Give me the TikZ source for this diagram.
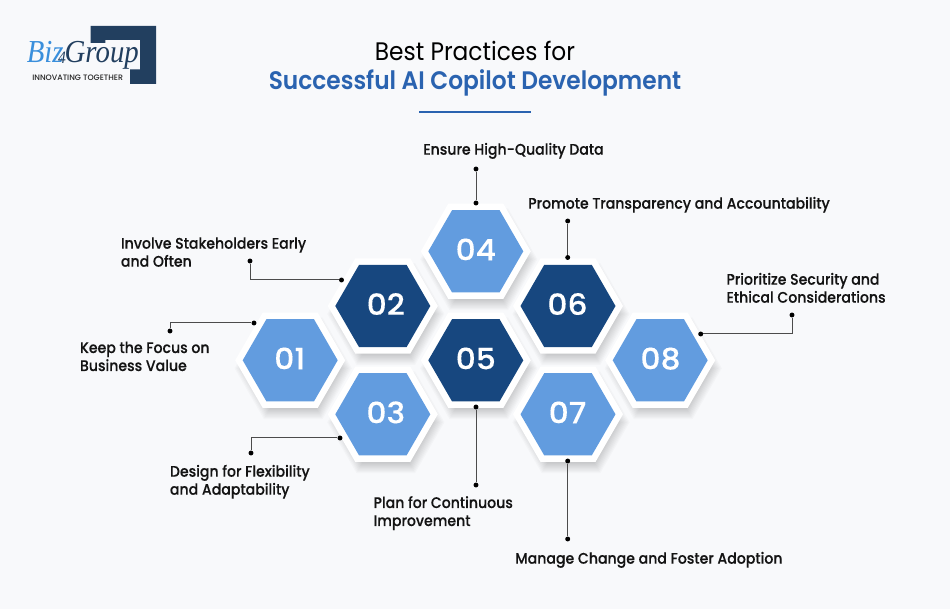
\documentclass[tikz,border=0pt]{standalone}
\usepackage{fontspec}
\usetikzlibrary{shapes.geometric}
\setmainfont{Poppins}
\newfontfamily\lblfont{Poppins Medium}[FakeStretch=0.92,FakeBold=0.2]
\newfontfamily\titlefont{Poppins}[FakeStretch=0.92]
\newfontfamily\titleboldfont{Poppins SemiBold}[FakeStretch=0.92]
\newfontfamily\numfont{Poppins Medium}[FakeStretch=1.07,FakeBold=0.25]
\newfontfamily\logofont{Liberation Serif}[FakeStretch=0.9]
\newfontfamily\tagfont{Poppins Medium}
\definecolor{bgc}{HTML}{F8F9FB}
\definecolor{lightb}{HTML}{629CDF}
\definecolor{darkb}{HTML}{17477F}
\definecolor{titleb}{HTML}{2A63B0}
\definecolor{logod}{HTML}{223F5F}
\definecolor{logol}{HTML}{3A8FDC}
\newcommand{\twolines}[2]{\vtop{\baselineskip=13.5pt\hbox{#1}\hbox{#2}}}
\tikzset{
  x=0.75pt,y=-0.75pt,
  hexshape/.style={regular polygon,regular polygon sides=6,inner sep=0pt,outer sep=0pt,draw=none},
  hexout/.style={hexshape,fill=white,minimum size=82.5pt},
  hexin/.style={hexshape,minimum size=71.25pt},
  hexshadow/.style={hexshape,fill=black,fill opacity=0.018,minimum size=#1},
  numtxt/.style={text=white,font=\numfont\fontsize{22}{22}\selectfont,anchor=base,inner sep=0pt},
  lbl/.style={anchor=base west,inner sep=0pt,text=black!92,font=\lblfont\fontsize{11.5}{13.5}\selectfont},
  dotn/.style={circle,fill=black,inner sep=0pt,minimum size=3.7pt},
  conn/.style={draw=black!70,line width=0.75pt},
}
\begin{document}
\begin{tikzpicture}
\useasboundingbox (0,0) rectangle (950,609);
\fill[bgc] (0,0) rectangle (950,609);
% logo
\fill[logod] (90.7,26) -- (156,26) -- (156,84) -- (130,84) -- (130,69.3) -- (140,69.3) -- (140,40) -- (105.3,40) -- (105.3,43) -- (90.7,43) -- cycle;
\node[anchor=base west,inner sep=0pt] (logotext) at (26.5,62.5) {\logofont\itshape\fontsize{24}{24}\selectfont\textcolor{logol}{Biz}\textcolor{logod}{\kern-4pt\raisebox{-1pt}{\fontsize{13}{13}\selectfont 4}\kern-1pt Group}};
\node[anchor=base west,inner sep=0pt,text=black!85] (logotag) at (32,80.5) {\tagfont\fontsize{5.9}{6}\selectfont INNOVATING TOGETHER};
% title
\node[anchor=base,inner sep=0pt,text=black] (t1) at (475,61) {\titlefont\fontsize{19}{19}\selectfont Best Practices for};
\node[anchor=base,inner sep=0pt,text=titleb] (t2) at (475,90) {\titleboldfont\fontsize{19}{19}\selectfont Successful AI Copilot Development};
\fill[titleb] (419.3,110.7) rectangle (530.7,112.7);
% hexagons
\foreach \n/\hx/\hy/\tx/\col in {1/290.2/360.3/289.8/lightb,2/382.8/306/385.8/darkb,3/382.8/414.3/385.8/lightb,4/475.8/251.3/475.8/lightb,5/475.8/360.3/475.8/darkb,6/568/306/567.5/darkb,7/568/414.3/567.5/lightb,8/660.2/360.3/660.5/lightb}{
  \foreach \s in {66,68,...,88}{
    \node[hexshadow=\s pt] at (\hx+3,\hy+8) {};
  }
}
\foreach \n/\hx/\hy/\tx/\col in {1/290.2/360.3/289.8/lightb,2/382.8/306/385.8/darkb,3/382.8/414.3/385.8/lightb,4/475.8/251.3/475.8/lightb,5/475.8/360.3/475.8/darkb,6/568/306/567.5/darkb,7/568/414.3/567.5/lightb,8/660.2/360.3/660.5/lightb}{
  \node[hexout] (o\n) at (\hx,\hy) {};
  \node[hexin,fill=\col] (h\n) at (\hx,\hy) {};
  \node[numtxt] (n\n) at (\tx,\hy+9) {0\n};
}
% labels
\node[lbl] (l1) at (79.7,353) {\twolines{Keep the Focus on}{Business Value}};
\node[lbl] (l2) at (120.7,248.7) {\twolines{Involve Stakeholders Early}{and Often}};
\node[lbl] (l3) at (169.7,476.7) {\twolines{Design for Flexibility}{and Adaptability}};
\node[lbl] (l4) at (423,154.7) {Ensure High-Quality Data};
\node[lbl] (l5) at (373.3,508) {\twolines{Plan for Continuous}{Improvement}};
\node[lbl] (l6) at (528,208.7) {Promote Transparency and Accountability};
\node[lbl] (l7) at (515,563.7) {Manage Change and Foster Adoption};
\node[lbl] (l8) at (726.2,284.7) {\twolines{Prioritize Security and}{Ethical Considerations}};
% dots
\node[dotn] (a1) at (170,331) {}; \node[dotn] (b1) at (254,323) {};
\node[dotn] (a2) at (250,261) {}; \node[dotn] (b2) at (341.5,280) {};
\node[dotn] (a3) at (251,453) {}; \node[dotn] (b3) at (340,438) {};
\node[dotn] (a4) at (476,169) {}; \node[dotn] (b4) at (476,203) {};
\node[dotn] (a5) at (476,485) {}; \node[dotn] (b5) at (476,407) {};
\node[dotn] (a6) at (567.7,221) {}; \node[dotn] (b6) at (567.7,257.5) {};
\node[dotn] (a7) at (567.7,539) {}; \node[dotn] (b7) at (567.7,461) {};
\node[dotn] (a8) at (792,315) {}; \node[dotn] (b8) at (700.7,334) {};
% connectors
\draw[conn] (a1) |- (b1);
\draw[conn] (a2) |- (b2);
\draw[conn] (a3) |- (b3);
\draw[conn] (a4) -- (b4);
\draw[conn] (a5) -- (b5);
\draw[conn] (a6) -- (b6);
\draw[conn] (a7) -- (b7);
\draw[conn] (a8) |- (b8);
\end{tikzpicture}
\end{document}
